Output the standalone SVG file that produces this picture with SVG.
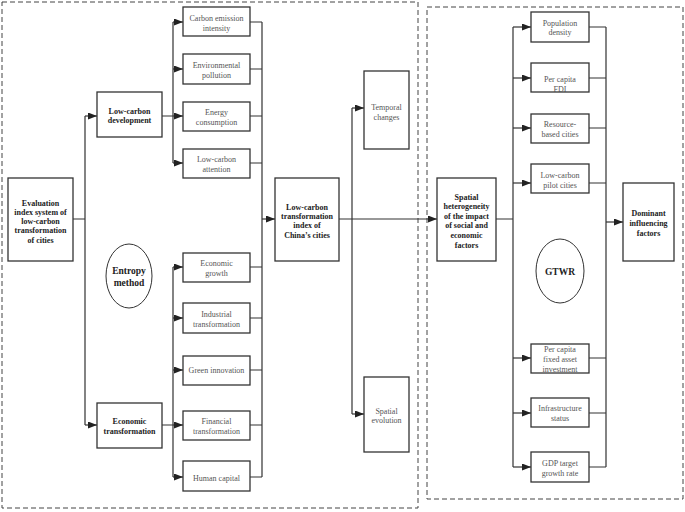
<svg xmlns="http://www.w3.org/2000/svg" width="685" height="512" viewBox="0 0 685 512">
<defs>
<marker id="ah" markerUnits="userSpaceOnUse" markerWidth="9" markerHeight="7" refX="9" refY="3.5" orient="auto">
<path d="M0,0 L9,3.5 L0,7 z" fill="#222"/>
</marker>
<style>
.box{fill:#fff;stroke:#333;stroke-width:1.3}
.dash{fill:none;stroke:#444;stroke-width:1;stroke-dasharray:5 3}
.ln{fill:none;stroke:#333;stroke-width:1.2}
.ar{fill:none;stroke:#333;stroke-width:1.2;marker-end:url(#ah)}
.t{font-family:"Liberation Serif",serif;font-size:8px;fill:#555;text-anchor:middle}
.b{font-family:"Liberation Serif",serif;font-size:8px;font-weight:bold;fill:#222;text-anchor:middle}
.e{font-family:"Liberation Serif",serif;font-size:9.5px;font-weight:bold;fill:#222;text-anchor:middle}
</style>
</defs>
<rect width="685" height="512" fill="#fff"/>
<rect class="dash" x="2" y="2" width="416" height="506"/>
<rect class="dash" x="427" y="7" width="256" height="492"/>

<g id="connectors">
<path class="ln" d="M73,219 H85 M85,116 V425"/>
<path class="ar" d="M85,116 H97"/>
<path class="ar" d="M85,425 H97"/>
<path class="ln" d="M162,116 H173 M173,22 V163"/>
<path class="ar" d="M173,22 H183"/>
<path class="ar" d="M173,69 H183"/>
<path class="ar" d="M173,116 H183"/>
<path class="ar" d="M173,163 H183"/>
<path class="ln" d="M162,425 H173 M173,267 V477"/>
<path class="ar" d="M173,267 H183"/>
<path class="ar" d="M173,318 H183"/>
<path class="ar" d="M173,370 H183"/>
<path class="ar" d="M173,425 H183"/>
<path class="ar" d="M173,477 H183"/>
<path class="ln" d="M250,22 H262 M250,69 H262 M250,116 H262 M250,163 H262 M250,267 H262 M250,318 H262 M250,370 H262 M250,425 H262 M250,477 H262 M262,22 V477"/>
<path class="ar" d="M262,219 H275"/>
<path class="ar" d="M339,219 H437"/>
<path class="ln" d="M352,108 V414"/>
<path class="ar" d="M352,108 H364"/>
<path class="ar" d="M352,414 H364"/>
<path class="ln" d="M496,219 H513 M513,27 V467"/>
<path class="ar" d="M513,27 H531"/>
<path class="ar" d="M513,78 H531"/>
<path class="ar" d="M513,128 H531"/>
<path class="ar" d="M513,183 H531"/>
<path class="ar" d="M513,358 H531"/>
<path class="ar" d="M513,413 H531"/>
<path class="ar" d="M513,467 H531"/>
<path class="ln" d="M589,27 H606 M589,78 H606 M589,128 H606 M589,183 H606 M589,358 H606 M589,413 H606 M589,467 H606 M606,27 V467"/>
<path class="ar" d="M606,222 H623"/>
</g>

<g id="n-eval"><rect class="box" x="8" y="178" width="65" height="83"/>
<text class="b" x="40.5" y="205.5">Evaluation</text><text class="b" x="40.5" y="214.8">index system of</text><text class="b" x="40.5" y="224.1">low-carbon</text><text class="b" x="40.5" y="233.4">transformation</text><text class="b" x="40.5" y="242.7">of cities</text></g>

<g id="n-lcd"><rect class="box" x="97" y="92" width="65" height="45"/>
<text class="b" x="129.5" y="113.5">Low-carbon</text><text class="b" x="129.5" y="123">development</text></g>

<g id="n-et"><rect class="box" x="97" y="403" width="65" height="45"/>
<text class="b" x="129.5" y="424">Economic</text><text class="b" x="129.5" y="433.5">transformation</text></g>

<g id="n-entropy"><ellipse cx="129" cy="276" rx="23" ry="32" fill="#fff" stroke="#333" stroke-width="1"/>
<text class="e" x="129" y="274">Entropy</text><text class="e" x="129" y="286">method</text></g>

<g id="n-cei"><rect class="box" x="183" y="7" width="67" height="29"/>
<text class="t" x="216.5" y="20.5">Carbon emission</text><text class="t" x="216.5" y="30.5">intensity</text></g>
<g id="n-ep"><rect class="box" x="183" y="54" width="67" height="30"/>
<text class="t" x="216.5" y="67.5">Environmental</text><text class="t" x="216.5" y="77.5">pollution</text></g>
<g id="n-ec"><rect class="box" x="183" y="102" width="67" height="29"/>
<text class="t" x="216.5" y="114.5">Energy</text><text class="t" x="216.5" y="124.5">consumption</text></g>
<g id="n-lca"><rect class="box" x="183" y="149" width="67" height="29"/>
<text class="t" x="216.5" y="162">Low-carbon</text><text class="t" x="216.5" y="172">attention</text></g>
<g id="n-eg"><rect class="box" x="183" y="253" width="67" height="29"/>
<text class="t" x="216.5" y="266">Economic</text><text class="t" x="216.5" y="276">growth</text></g>
<g id="n-it"><rect class="box" x="183" y="303" width="67" height="30"/>
<text class="t" x="216.5" y="317">Industrial</text><text class="t" x="216.5" y="327">transformation</text></g>
<g id="n-gi"><rect class="box" x="183" y="356" width="67" height="29"/>
<text class="t" x="216.5" y="373">Green innovation</text></g>
<g id="n-ft"><rect class="box" x="183" y="411" width="67" height="29"/>
<text class="t" x="216.5" y="424">Financial</text><text class="t" x="216.5" y="434">transformation</text></g>
<g id="n-hc"><rect class="box" x="183" y="461" width="67" height="30"/>
<text class="t" x="216.5" y="480.5">Human capital</text></g>

<g id="n-lcti"><rect class="box" x="275" y="178" width="64" height="83"/>
<text class="b" x="307" y="209.5">Low-carbon</text><text class="b" x="307" y="218.8">transformation</text><text class="b" x="307" y="228.1">index of</text><text class="b" x="307" y="237.7">China’s cities</text></g>

<g id="n-tc"><rect class="box" x="364" y="71" width="45" height="78"/>
<text class="t" x="386.5" y="109.5">Temporal</text><text class="t" x="386.5" y="119.5">changes</text></g>
<g id="n-se"><rect class="box" x="364" y="377" width="45" height="75"/>
<text class="t" x="386.5" y="413.5">Spatial</text><text class="t" x="386.5" y="423.2">evolution</text></g>

<g id="n-sh"><rect class="box" x="437" y="178" width="59" height="83"/>
<text class="b" x="466.5" y="199.5">Spatial</text><text class="b" x="466.5" y="208.8">heterogeneity</text><text class="b" x="466.5" y="218.6">of the impact</text><text class="b" x="466.5" y="228.2">of social and</text><text class="b" x="466.5" y="237.9">economic</text><text class="b" x="466.5" y="247.7">factors</text></g>

<g id="n-pd"><rect class="box" x="531" y="12" width="58" height="30"/>
<text class="t" x="560" y="26">Population</text><text class="t" x="560" y="35">density</text></g>
<g id="n-fdi"><rect class="box" x="531" y="63" width="58" height="29"/>
<text class="t" x="560" y="81.8">Per capita</text><text class="t" x="560" y="91.5">FDI</text></g>
<g id="n-rbc"><rect class="box" x="531" y="114" width="58" height="29"/>
<text class="t" x="560" y="127">Resource-</text><text class="t" x="560" y="137">based cities</text></g>
<g id="n-lpc"><rect class="box" x="531" y="164" width="58" height="29"/>
<text class="t" x="560" y="177.5">Low-carbon</text><text class="t" x="560" y="187.5">pilot cities</text></g>
<g id="n-gtwr"><ellipse cx="560" cy="271" rx="24" ry="32" fill="#fff" stroke="#333" stroke-width="1"/>
<text class="e" x="560" y="275">GTWR</text></g>
<g id="n-fai"><rect class="box" x="531" y="344" width="58" height="29"/>
<text class="t" x="560" y="352.2">Per capita</text><text class="t" x="560" y="361.9">fixed asset</text><text class="t" x="560" y="371.8">investment</text></g>
<g id="n-is"><rect class="box" x="531" y="398" width="58" height="29"/>
<text class="t" x="560" y="411">Infrastructure</text><text class="t" x="560" y="421">status</text></g>
<g id="n-gdp"><rect class="box" x="531" y="452" width="58" height="30"/>
<text class="t" x="560" y="466">GDP target</text><text class="t" x="560" y="476">growth rate</text></g>

<g id="n-dif"><rect class="box" x="623" y="183" width="51" height="78"/>
<text class="b" x="648.5" y="216.3">Dominant</text><text class="b" x="648.5" y="225.7">influencing</text><text class="b" x="648.5" y="235.7">factors</text></g>
</svg>
